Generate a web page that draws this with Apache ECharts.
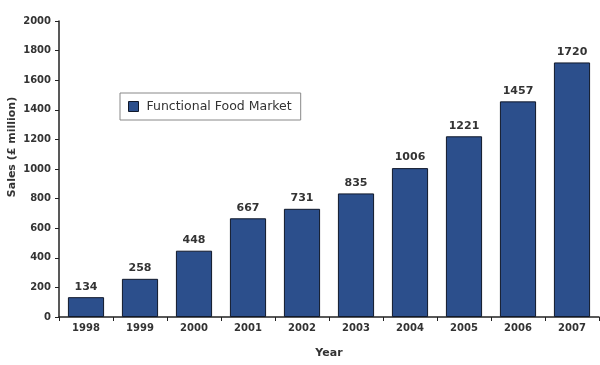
<!DOCTYPE html>
<html><head><meta charset="utf-8">
<script src="https://cdn.jsdelivr.net/npm/echarts@6/dist/echarts.min.js"></script>
<style>html,body{margin:0;padding:0;background:#fff}#c{width:600px;height:365px}</style>
</head><body><div id="c"></div>
<script>
const years = ['1998','1999','2000','2001','2002','2003','2004','2005','2006','2007'];
const sales = [134, 258, 448, 667, 731, 835, 1006, 1221, 1457, 1720];
const seriesName = 'Functional Food Market';
const yTitle = 'Sales (£ million)';
const xTitle = 'Year';

const chart = echarts.init(document.getElementById('c'));
const font = 'DejaVu Sans, Verdana, sans-serif';
chart.setOption({
  animation: false,
  backgroundColor: '#fff',
  grid: {left: 59, right: 1, top: 21, bottom: 48, outerBoundsMode: 'none', containLabel: false},
  legend: {
    left: 120, top: 93,
    itemWidth: 10, itemHeight: 10,
    padding: [7, 9, 7, 8],
    borderColor: '#888', borderWidth: 1,
    icon: 'rect',
    itemStyle: {borderColor: '#10182a', borderWidth: 1},
    textStyle: {fontFamily: font, fontSize: 12.5, color: '#333', padding: [0, 0, 0, 3]},
    data: [seriesName]
  },
  graphic: [{
    type: 'text', x: 12, y: 147, rotation: Math.PI / 2,
    style: {text: yTitle, font: 'bold 11px DejaVu Sans', fill: '#333', align: 'center', verticalAlign: 'middle'}
  }],
  xAxis: {
    type: 'category', data: years,
    name: xTitle, nameLocation: 'middle', nameGap: 31,
    nameTextStyle: {fontFamily: font, fontSize: 11, fontWeight: 'bold', color: '#333'},
    axisLine: {lineStyle: {color: '#222', width: 1.5}},
    axisTick: {show: true, length: 4, lineStyle: {color: '#222'}},
    axisLabel: {fontFamily: font, fontSize: 10, fontWeight: 'bold', color: '#333', margin: 6}
  },
  yAxis: {
    type: 'value', min: 0, max: 2000, interval: 200,
    axisLine: {show: true, lineStyle: {color: '#222', width: 1.5}},
    axisTick: {show: true, length: 4, lineStyle: {color: '#222'}},
    splitLine: {show: false},
    axisLabel: {fontFamily: font, fontSize: 10, fontWeight: 'bold', color: '#333', margin: 8, formatter: v => String(v)}
  },
  series: [{
    name: seriesName, type: 'bar', data: sales,
    barWidth: '67%',
    itemStyle: {color: '#2c4f8c', borderColor: '#10182a', borderWidth: 1},
    label: {show: true, position: 'top', distance: 5, fontFamily: font, fontSize: 11, fontWeight: 'bold', color: '#333'}
  }]
});
</script></body></html>
